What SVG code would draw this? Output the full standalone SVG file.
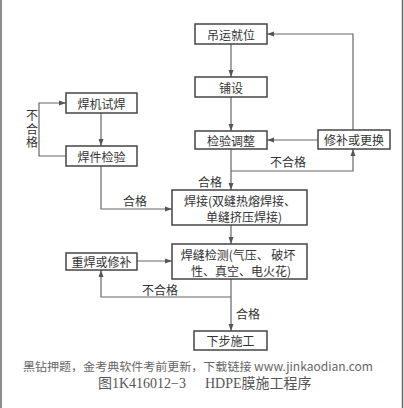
<svg xmlns="http://www.w3.org/2000/svg" width="404" height="408" viewBox="0 0 404 408">
<style>
.b{fill:#fff;stroke:#444;stroke-width:1.5}
.t{font-family:"Noto Sans CJK SC","Liberation Sans",sans-serif;font-size:12px;fill:#333;text-anchor:middle;dominant-baseline:central}
.v{font-family:"Noto Sans CJK SC","Liberation Sans",sans-serif;font-size:12px;fill:#333;text-anchor:middle;writing-mode:vertical-rl;letter-spacing:1.5px}
.l{fill:none;stroke:#666;stroke-width:1.2}
.wm{font-family:"Noto Sans CJK SC","Liberation Sans",sans-serif;font-size:11.5px;fill:#666}
.cap{font-family:"Liberation Serif","Noto Sans CJK SC",serif;font-size:14px;fill:#555}
</style>
<defs>
<marker id="a" markerUnits="userSpaceOnUse" markerWidth="8" markerHeight="6" refX="7" refY="3" orient="auto">
<path d="M0,0.5 L7,3 L0,5.5 Z" fill="#555"/>
</marker>
</defs>
<rect width="404" height="408" fill="#fff"/>
<line x1="1" y1="0" x2="1" y2="408" stroke="#666" stroke-width="1.5"/>
<line x1="402.5" y1="0" x2="402.5" y2="408" stroke="#666" stroke-width="1.5"/>
<g id="connectors">
<path class="l" d="M231,44 V77" marker-end="url(#a)"/>
<path class="l" d="M231,97 V131" marker-end="url(#a)"/>
<path class="l" d="M318,140 H267" marker-end="url(#a)"/>
<path class="l" d="M353,130 V34 H267" marker-end="url(#a)"/>
<path class="l" d="M231,149 V190" marker-end="url(#a)"/>
<path class="l" d="M231,171 H353 V149" marker-end="url(#a)"/>
<path class="l" d="M101,113 V146" marker-end="url(#a)"/>
<path class="l" d="M66,156 H39 V103 H66" marker-end="url(#a)"/>
<path class="l" d="M101,166 V209 H172" marker-end="url(#a)"/>
<path class="l" d="M231,225 V244" marker-end="url(#a)"/>
<path class="l" d="M137,261 H172" marker-end="url(#a)"/>
<path class="l" d="M231,279 V331" marker-end="url(#a)"/>
<path class="l" d="M231,297 H101 V270" marker-end="url(#a)"/>
<text class="t" x="288" y="161">不合格</text>
<text class="t" x="210" y="181">合格</text>
<text class="t" x="135" y="200">合格</text>
<text class="v" x="32" y="130">不合格</text>
<text class="t" x="160" y="289">不合格</text>
<text class="t" x="248" y="313">合格</text>
</g>
<g id="n1"><rect class="b" x="195" y="24" width="72" height="20"/><text class="t" x="231" y="34">吊运就位</text></g>
<g id="n2"><rect class="b" x="195" y="77" width="72" height="20"/><text class="t" x="231" y="87">铺设</text></g>
<g id="n3"><rect class="b" x="195" y="131" width="72" height="18"/><text class="t" x="231" y="140">检验调整</text></g>
<g id="n4"><rect class="b" x="318" y="130" width="72" height="19"/><text class="t" x="354" y="139.5">修补或更换</text></g>
<g id="n5"><rect class="b" x="66" y="93" width="71" height="20"/><text class="t" x="101.5" y="103">焊机试焊</text></g>
<g id="n6"><rect class="b" x="66" y="146" width="71" height="20"/><text class="t" x="101.5" y="156">焊件检验</text></g>
<g id="n7"><rect class="b" x="172" y="190" width="135" height="35"/><text class="t" x="240" y="200.5">焊接(双缝热熔焊接、</text><text class="t" x="244" y="216.5">单缝挤压焊接)</text></g>
<g id="n8"><rect class="b" x="172" y="244" width="135" height="35"/><text class="t" x="238" y="254">焊缝检测(气压、 破坏</text><text class="t" x="241" y="270">性、真空、电火花)</text></g>
<g id="n9"><rect class="b" x="66" y="253" width="71" height="17"/><text class="t" x="101.5" y="261.5">重焊或修补</text></g>
<g id="n10"><rect class="b" x="194" y="331" width="73" height="19"/><text class="t" x="230.5" y="340.5">下步施工</text></g>
<text class="wm" x="23" y="371" textLength="350" lengthAdjust="spacingAndGlyphs">黑钻押题，金考典软件考前更新，下载链接 www.jinkaodian.com</text>
<text class="cap" x="98" y="388">图1K416012−3</text>
<text class="cap" x="205" y="388">HDPE膜施工程序</text>
</svg>
